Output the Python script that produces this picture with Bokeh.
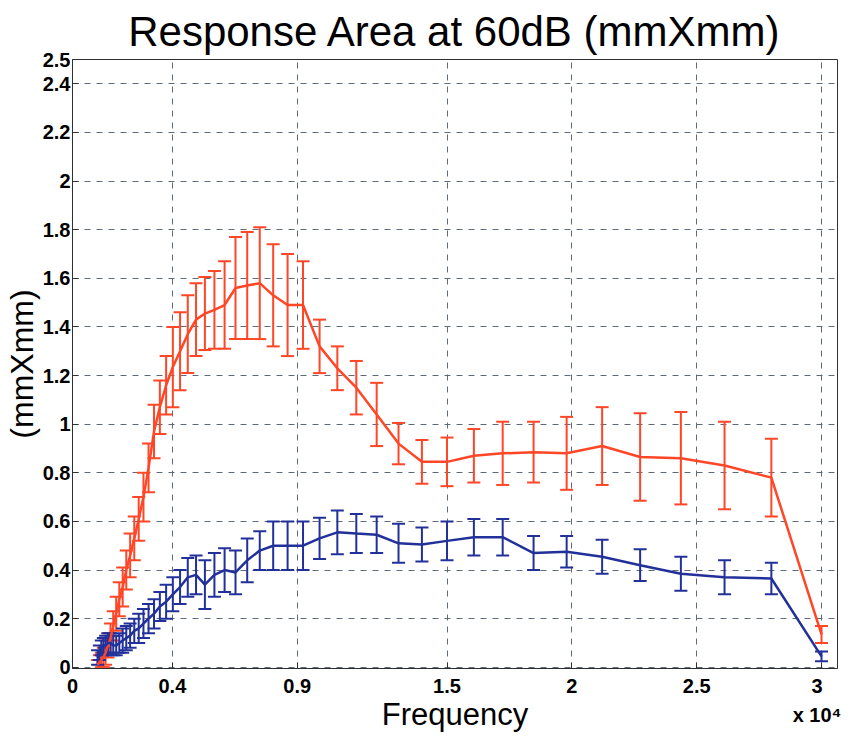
from bokeh.plotting import figure
from bokeh.models import Whisker, ColumnDataSource, FixedTicker, Range1d, TeeHead
from bokeh.embed import file_html
from bokeh.resources import INLINE

freq = [1005, 1077, 1154, 1237, 1326, 1421, 1523, 1632, 1750, 1875,
        2010, 2154, 2308, 2474, 2652, 2842, 3046, 3265, 3499, 3750,
        4019, 4308, 4617, 4948, 5303, 5684, 6092, 6529, 6998, 7500,
        8038, 8615, 9233, 9896, 10607, 11367, 12183, 13058, 13995, 15000,
        16076, 17230, 18467, 19792, 21213, 22735, 24367, 26116, 27991, 30000]

red_mean = [0.01, 0.02, 0.03, 0.04, 0.06, 0.09, 0.12, 0.17, 0.22, 0.28,
            0.33, 0.40, 0.46, 0.53, 0.61, 0.70, 0.82, 0.97, 1.07, 1.16,
            1.235, 1.30, 1.37, 1.43, 1.455, 1.47, 1.49, 1.56, 1.57, 1.58,
            1.53, 1.49, 1.49, 1.32, 1.23, 1.15, 1.04, 0.92, 0.845, 0.845,
            0.87, 0.88, 0.885, 0.88, 0.91, 0.865, 0.86, 0.83, 0.78, 0.135]
red_err = [0.02, 0.03, 0.03, 0.04, 0.05, 0.05, 0.06, 0.06, 0.07, 0.07,
           0.08, 0.08, 0.09, 0.09, 0.09, 0.10, 0.10, 0.11, 0.11, 0.12,
           0.165, 0.16, 0.16, 0.15, 0.15, 0.16, 0.18, 0.21, 0.22, 0.23,
           0.21, 0.21, 0.18, 0.11, 0.09, 0.11, 0.13, 0.085, 0.09, 0.10,
           0.11, 0.13, 0.125, 0.15, 0.16, 0.18, 0.19, 0.18, 0.16, 0.035]

blue_mean = [0.04, 0.06, 0.08, 0.09, 0.09, 0.10, 0.10, 0.09, 0.09, 0.10,
             0.11, 0.12, 0.13, 0.15, 0.16, 0.18, 0.20, 0.22, 0.25, 0.27,
             0.30, 0.33, 0.37, 0.38, 0.34, 0.38, 0.40, 0.39, 0.44, 0.48,
             0.50, 0.50, 0.50, 0.53, 0.555, 0.55, 0.545, 0.51, 0.505, 0.52,
             0.535, 0.535, 0.47, 0.475, 0.455, 0.42, 0.385, 0.37, 0.365, 0.045]
blue_err = [0.03, 0.03, 0.03, 0.03, 0.04, 0.04, 0.04, 0.04, 0.04, 0.04,
            0.05, 0.05, 0.05, 0.05, 0.06, 0.06, 0.06, 0.06, 0.06, 0.07,
            0.07, 0.07, 0.08, 0.08, 0.10, 0.09, 0.09, 0.09, 0.09, 0.08,
            0.10, 0.10, 0.10, 0.085, 0.09, 0.08, 0.075, 0.08, 0.07, 0.08,
            0.075, 0.075, 0.07, 0.065, 0.07, 0.065, 0.07, 0.07, 0.065, 0.02]

x_ticks = [0, 4000, 9000, 15000, 20000, 25000, 30000]
x_tick_labels = ["0", "0.4", "0.9", "1.5", "2", "2.5", "3\nx 10\u2074"]
y_ticks = [0, 0.2, 0.4, 0.6, 0.8, 1.0, 1.2, 1.4, 1.6, 1.8, 2.0, 2.2, 2.4, 2.5]
y_tick_labels = ["0", "0.2", "0.4", "0.6", "0.8", "1", "1.2", "1.4", "1.6",
                 "1.8", "2", "2.2", "2.4", "2.5"]

RED = "#ff4626"
BLUE = "#22309a"
FONT = "Liberation Sans"

p = figure(frame_width=765, frame_height=609, output_backend="svg",
           toolbar_location=None,
           x_range=Range1d(0, 30640), y_range=Range1d(-0.005, 2.5),
           min_border_left=64, min_border_right=4, min_border_top=52,
           min_border_bottom=10)

p.title.text = "Response Area at 60dB (mmXmm)"
p.title.align = "center"
p.title.text_font = FONT
p.title.text_font_size = "42px"
p.title.text_font_style = "normal"
p.title.text_color = "black"
p.title.offset = 0

p.outline_line_color = "#303030"
p.outline_line_width = 1

p.xaxis.ticker = FixedTicker(ticks=x_ticks)
p.xaxis.major_label_overrides = {t: l for t, l in zip(x_ticks, x_tick_labels)}
p.yaxis.ticker = FixedTicker(ticks=y_ticks)
p.yaxis.major_label_overrides = {t: l for t, l in zip(y_ticks, y_tick_labels)}

for ax in (p.xaxis[0], p.yaxis[0]):
    ax.major_label_text_font = FONT
    ax.major_label_text_font_size = "20px"
    ax.major_label_text_font_style = "bold"
    ax.major_label_text_color = "black"
    ax.axis_label_text_font = FONT
    ax.axis_label_text_font_style = "normal"
    ax.axis_label_text_color = "black"
    ax.axis_line_color = "#303030"
    ax.major_tick_in = 6
    ax.major_tick_out = 0
    ax.minor_tick_line_color = None
    ax.major_tick_line_color = "#303030"

p.xaxis.major_label_standoff = 6
p.xaxis.major_label_text_line_height = 1.35
p.xaxis.axis_label = "Frequency"
p.xaxis.axis_label_text_font_size = "31px"
p.xaxis.axis_label_standoff = -32

p.yaxis.axis_label = "(mmXmm)"
p.yaxis.axis_label_text_font_size = "32px"
p.yaxis.major_label_standoff = 2
p.yaxis.axis_label_standoff = 0

p.grid.grid_line_color = "#5d6b78"
p.grid.grid_line_dash = "6 6"
p.grid.grid_line_width = 1

red_src = ColumnDataSource(dict(x=freq, y=red_mean,
                                upper=[m + e for m, e in zip(red_mean, red_err)],
                                lower=[m - e for m, e in zip(red_mean, red_err)]))
blue_src = ColumnDataSource(dict(x=freq, y=blue_mean,
                                 upper=[m + e for m, e in zip(blue_mean, blue_err)],
                                 lower=[m - e for m, e in zip(blue_mean, blue_err)]))

for src, col in ((red_src, RED), (blue_src, BLUE)):
    w = Whisker(source=src, base="x", upper="upper", lower="lower",
                line_color=col, line_width=2,
                upper_head=TeeHead(size=13, line_color=col, line_width=2),
                lower_head=TeeHead(size=13, line_color=col, line_width=2))
    p.add_layout(w)
    p.line("x", "y", source=src, line_color=col, line_width=2.5)

open("out.html", "w").write(file_html(p, INLINE))
